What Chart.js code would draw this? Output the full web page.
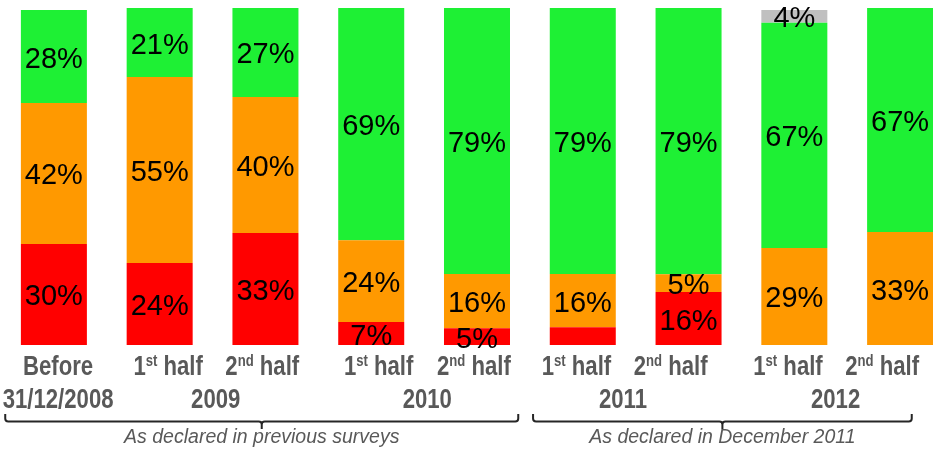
<!DOCTYPE html>
<html><head><meta charset="utf-8">
<script src="https://cdn.jsdelivr.net/npm/chart.js@4/dist/chart.umd.min.js"></script>
<style>html,body{margin:0;padding:0;background:#fff;overflow:hidden}#wrap{width:933px;height:450px;overflow:hidden;position:relative}canvas{display:block}</style>
</head><body><div id="wrap"><canvas id="c" width="954" height="450"></canvas></div>
<script>
// ---- data ----
const categoryLine1 = ['Before','1st half','2nd half','1st half','2nd half','1st half','2nd half','1st half','2nd half'];
const categoryLine2 = ['31/12/2008','','','','','','','',''];
const yearLabels = ['2009','2010','2011','2012'];
const yearAt = [1.53, 3.53, 5.38, 7.39];           // category-axis positions
const groupLabels = ['As declared in previous surveys','As declared in December 2011'];
const groupFrom = [-0.46, 4.53];                    // category-axis positions
const groupTo = [4.39, 8.11];

const redValues    = [30.0, 24.3, 33.2, 6.8, 5.0, 5.3, 15.7, 0, 0];
const orangeValues = [41.8, 55.2, 40.4, 24.3, 16.1, 15.8, 5.3, 28.8, 33.5];
const greenValues  = [27.6, 20.5, 26.4, 68.9, 78.9, 78.9, 79.0, 66.8, 66.5];
const greyValues   = [0, 0, 0, 0, 0, 0, 0, 3.8, 0];
const redLabels    = ['30%','24%','33%','7%','5%','','16%','',''];
const orangeLabels = ['42%','55%','40%','24%','16%','16%','5%','29%','33%'];
const greenLabels  = ['28%','21%','27%','69%','79%','79%','79%','67%','67%'];
const greyLabels   = ['','','','','','','','4%',''];

// text-box placement of the category captions (category-axis positions)
const captionAt = [0.04, 1.08, 1.97, 3.07, 3.97, 4.94, 5.83, 6.94, 7.83];

// ---- font helpers ----
function hasFont(name){
  const c=document.createElement('canvas').getContext('2d');
  c.font='bold 40px monospace'; const a=c.measureText('Before 2009 half').width;
  c.font='bold 40px "'+name+'", monospace'; const b=c.measureText('Before 2009 half').width;
  return a!==b;
}
const NARROW = hasFont('Liberation Sans Narrow');
const NFAM = NARROW ? '"Liberation Sans Narrow"' : '"Liberation Sans", Arial';
const NSCALE = NARROW ? 1 : 0.82;

function narrowText(ctx, parts, cx, y){
  ctx.save();
  ctx.translate(cx, y);
  ctx.scale(NSCALE, 1);
  let total=0;
  parts.forEach(p=>{ctx.font='bold '+p.size+'px '+NFAM; p.w=ctx.measureText(p.t).width; total+=p.w;});
  let x=-total/2;
  ctx.textAlign='left'; ctx.textBaseline='alphabetic';
  parts.forEach(p=>{ctx.font='bold '+p.size+'px '+NFAM; ctx.fillText(p.t, x, p.dy||0); x+=p.w;});
  ctx.restore();
}
function splitSup(s){
  const m=s.match(/^(\d)(st|nd|rd|th)(.*)$/);
  if(!m) return [{t:s,size:27}];
  return [{t:m[1],size:27},{t:m[2],size:16,dy:-9.5},{t:m[3],size:27}];
}

const segLabels = {
  id:'segLabels',
  afterDatasetsDraw(chart){
    const ctx=chart.ctx;
    ctx.save();
    ctx.font='29px "Liberation Sans", Arial, sans-serif';
    ctx.fillStyle='#000'; ctx.textAlign='center'; ctx.textBaseline='alphabetic';
    chart.data.datasets.forEach((ds,di)=>{
      const meta=chart.getDatasetMeta(di);
      meta.data.forEach((el,i)=>{
        const t=ds.segText[i];
        if(!t) return;
        const cy=(el.y+el.base)/2;
        ctx.fillText(t, el.x, cy+11);
      });
    });
    ctx.restore();
  }
};

const axisText = {
  id:'axisText',
  afterDraw(chart){
    const ctx=chart.ctx, xs=chart.scales.x;
    ctx.save();
    ctx.fillStyle='#595959';
    categoryLine1.forEach((s,i)=>{
      const x=xs.getPixelForValue(captionAt[i]);
      narrowText(ctx, splitSup(s), x, 375);
      if(categoryLine2[i]) narrowText(ctx, [{t:categoryLine2[i],size:27}], x, 408);
    });
    yearLabels.forEach((s,i)=>{
      narrowText(ctx, [{t:s,size:27}], xs.getPixelForValue(yearAt[i]), 408);
    });
    ctx.strokeStyle='#262626'; ctx.lineWidth=2;
    groupLabels.forEach((s,i)=>{
      const x1=xs.getPixelForValue(groupFrom[i]), x2=xs.getPixelForValue(groupTo[i]);
      const m=(x1+x2)/2, y=421.5, r=3;
      ctx.beginPath();
      ctx.moveTo(x1, 414);
      ctx.lineTo(x1, y-r);
      ctx.arcTo(x1, y, x1+r, y, r);
      ctx.lineTo(m-r, y);
      ctx.arcTo(m, y, m, y+r, r);
      ctx.lineTo(m, 429);
      ctx.moveTo(m, y+r);
      ctx.arcTo(m, y, m+r, y, r);
      ctx.lineTo(x2-r, y);
      ctx.arcTo(x2, y, x2, y-r, r);
      ctx.lineTo(x2, 414);
      ctx.stroke();
      ctx.font='italic 19.5px "Liberation Sans", Arial, sans-serif';
      ctx.textAlign='center'; ctx.textBaseline='alphabetic';
      ctx.fillText(s, m, 443);
    });
    ctx.restore();
  }
};

new Chart(document.getElementById('c').getContext('2d'), {
  type:'bar',
  data:{
    labels: categoryLine1,
    datasets:[
      {data:redValues, backgroundColor:'#FF0000', segText:redLabels},
      {data:orangeValues, backgroundColor:'#FF9900', segText:orangeLabels},
      {data:greenValues, backgroundColor:'#1EF034', segText:greenLabels},
      {data:greyValues, backgroundColor:'#C0C0C0', segText:greyLabels}
    ]
  },
  options:{
    responsive:false, animation:false,
    layout:{padding:{left:1,right:1,top:8,bottom:105}},
    plugins:{legend:{display:false}, tooltip:{enabled:false}},
    datasets:{bar:{barPercentage:0.624, categoryPercentage:1, borderWidth:0}},
    scales:{
      x:{stacked:true, display:false},
      y:{stacked:true, display:false, min:0, max:100}
    }
  },
  plugins:[segLabels, axisText]
});
</script></body></html>
